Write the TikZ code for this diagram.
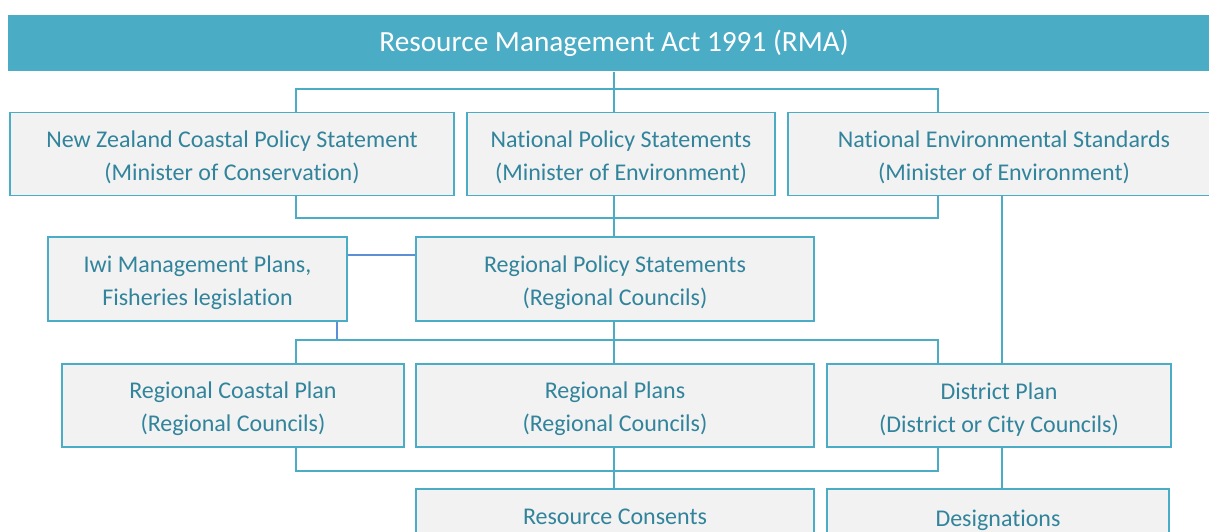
\documentclass[tikz,border=0pt]{standalone}
\usepackage{fontspec}
\setmainfont[Ligatures=NoCommon]{Carlito}
\usepackage{xcolor}
\definecolor{rmateal}{HTML}{4BACC6}
\definecolor{rmatext}{HTML}{31849B}
\definecolor{rmafill}{HTML}{F2F2F2}
\definecolor{rmablue}{HTML}{5B8FD6}
\newcommand{\lift}{\rule{0pt}{24pt}}

\begin{document}
\begin{tikzpicture}[x=1pt, y=-1pt, line width=2pt,
  box/.style={draw=rmateal, fill=rmafill, text=rmatext, align=center,
    font=\fontsize{24}{33}\selectfont, inner sep=0pt,
    minimum height=83pt, line width=1.6pt},
  link/.style={draw=rmateal, line width=1.6pt},
  iwilink/.style={draw=rmablue, line width=1.4pt}]
\useasboundingbox (0,0) rectangle (1209,532);
\clip (0,0) rectangle (1209,532);
% banner
\node[fill=rmateal, text=white, font=\fontsize{29.3}{32}\selectfont,
  minimum width=1212pt, minimum height=56pt, inner sep=0pt] (rma) at (614,43.5)
  {Resource Management Act 1991 (RMA)};
% national instruments
\node[box, minimum width=444pt] (nzcps) at (232,154)
  {\lift New Zealand Coastal Policy Statement\\(Minister of Conservation)};
\node[box, minimum width=308pt] (nps) at (621,154)
  {\lift National Policy Statements\\(Minister of Environment)};
\node[box, minimum width=432pt] (nes) at (1004,154)
  {\lift National Environmental Standards\\(Minister of Environment)};
% regional level
\node[box, minimum width=299pt, minimum height=84pt] (iwi) at (197.5,279)
  {\lift Iwi Management Plans,\\Fisheries legislation};
\node[box, minimum width=398pt, minimum height=84pt] (rps) at (615,279)
  {\lift Regional Policy Statements\\(Regional Councils)};
% plans
\node[box, minimum width=342pt] (rcp) at (233,405.5)
  {\lift Regional Coastal Plan\\(Regional Councils)};
\node[box, minimum width=398pt] (rp) at (615,405.5)
  {\lift Regional Plans\\(Regional Councils)};
\node[box, minimum width=344pt] (dp) at (999,405.5)
  {\lift District Plan\\(District or City Councils)};
% consents (cut off at the bottom)
\node[box, minimum width=398pt] (rc) at (615,530.5)
  {\lift\raisebox{-3pt}{Resource Consents}\\\strut};
\node[box, minimum width=342pt] (des) at (998,530.5)
  {\lift\raisebox{-5pt}{Designations}\\\strut};
% bus lines
\coordinate (b1w) at (296,89);  \coordinate (b1e) at (938,89);
\coordinate (b2w) at (296,218); \coordinate (b2e) at (938,218);
\coordinate (b3w) at (296,340); \coordinate (b3e) at (938,340);
\coordinate (b4w) at (296,471); \coordinate (b4e) at (938,471);
\coordinate (mid) at (614,0);   \coordinate (side) at (1002,0);
\draw[link] (rma.south -| mid) -- (nps.north -| mid);
\draw[link] (nzcps.north -| b1w) -- (b1w) -- (b1e) -- (nes.north -| b1e);
\draw[link] (nzcps.south -| b2w) -- (b2w) -- (b2e) -- (nes.south -| b2e);
\draw[link] (nps.south -| mid) -- (rps.north -| mid);
\draw[link] (nes.south -| side) -- (dp.north -| side);
\draw[iwilink] (iwi.east |- 0,255) -- (rps.west |- 0,255);
\draw[iwilink] (iwi.south -| 337,0) -- (b3w -| 337,0);
\draw[link] (rcp.north -| b3w) -- (b3w) -- (b3e) -- (dp.north -| b3e);
\draw[link] (rps.south -| mid) -- (rp.north -| mid);
\draw[link] (rcp.south -| b4w) -- (b4w) -- (b4e) -- (dp.south -| b4e);
\draw[link] (rp.south -| mid) -- (rc.north -| mid);
\draw[link] (dp.south -| side) -- (des.north -| side);
\end{tikzpicture}
\end{document}
